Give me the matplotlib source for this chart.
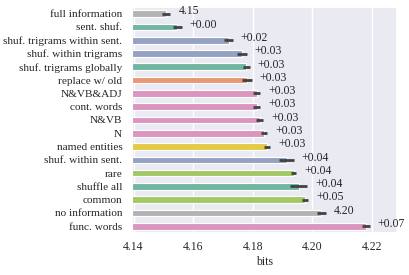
import matplotlib
matplotlib.use("Agg")
import matplotlib.pyplot as plt
import seaborn as sns
import numpy as np

categories = ["full information", "sent. shuf.", "shuf. trigrams within sent.",
              "shuf. within trigrams", "shuf. trigrams globally", "replace w/ old",
              "N&VB&ADJ", "cont. words", "N&VB", "N", "named entities",
              "shuf. within sent.", "rare", "shuffle all", "common",
              "no information", "func. words"]
values = [4.1509, 4.1546, 4.1719, 4.1763, 4.1778, 4.1780, 4.1813, 4.1813,
          4.1823, 4.1838, 4.1847, 4.1913, 4.1937, 4.1954, 4.1975, 4.2030, 4.2179]
errors = [0.0015, 0.0015, 0.0014, 0.0017, 0.0011, 0.0016, 0.0011, 0.0011,
          0.0012, 0.0010, 0.0011, 0.0024, 0.0009, 0.0029, 0.0011, 0.0014, 0.0013]
labels = ["4.15", "+0.00", "+0.02", "+0.03", "+0.03", "+0.03", "+0.03", "+0.03",
          "+0.03", "+0.03", "+0.03", "+0.04", "+0.04", "+0.04", "+0.05", "4.20", "+0.07"]
groups = ["gray", "green", "blue", "blue", "green", "orange", "pink", "pink",
          "pink", "pink", "yellow", "blue", "lime", "green", "lime", "gray", "pink"]
xticks = [4.14, 4.16, 4.18, 4.20, 4.22]

sns.set_theme(style="darkgrid")
plt.rcParams['font.family'] = ['Liberation Serif', 'DejaVu Serif']

pal = sns.color_palette("Set2", 8, desat=0.75)
cmap = {"green": pal[0], "orange": pal[1], "blue": pal[2], "pink": pal[3],
        "lime": pal[4], "yellow": pal[5], "gray": pal[7]}

fig = plt.figure(figsize=(4.10, 2.75), dpi=100)
ax = fig.add_axes([0.322, 0.153, 0.646, 0.8215])

y = np.arange(len(categories))
left = 4.1395
ax.barh(y, np.array(values) - left, left=left, height=0.5,
        color=[cmap[g] for g in groups], edgecolor="white", linewidth=0.8, zorder=2)
ax.errorbar(values, y, xerr=errors, fmt="none", ecolor=".26", elinewidth=2.0,
            capsize=0, zorder=3)
for i, (v, e, t) in enumerate(zip(values, errors, labels)):
    ax.text(v + e + 0.0027, i - 0.17, t, va="center", ha="left", fontsize=8.5)

ax.set_yticks(y)
ax.set_yticklabels(categories, fontsize=8.1)
ax.set_xticks(xticks)
ax.set_xticklabels([f"{t:.2f}" for t in xticks], fontsize=8.5)
ax.set_xlim(left, 4.2283)
ax.set_ylim(len(categories) - 0.5, -0.5)
ax.grid(axis="y", visible=False)
ax.set_xlabel("bits", fontsize=8.5, labelpad=2)
ax.tick_params(axis="y", length=0, pad=7)
ax.tick_params(axis="x", length=0, pad=6)

fig.savefig("out.png", dpi=100)
